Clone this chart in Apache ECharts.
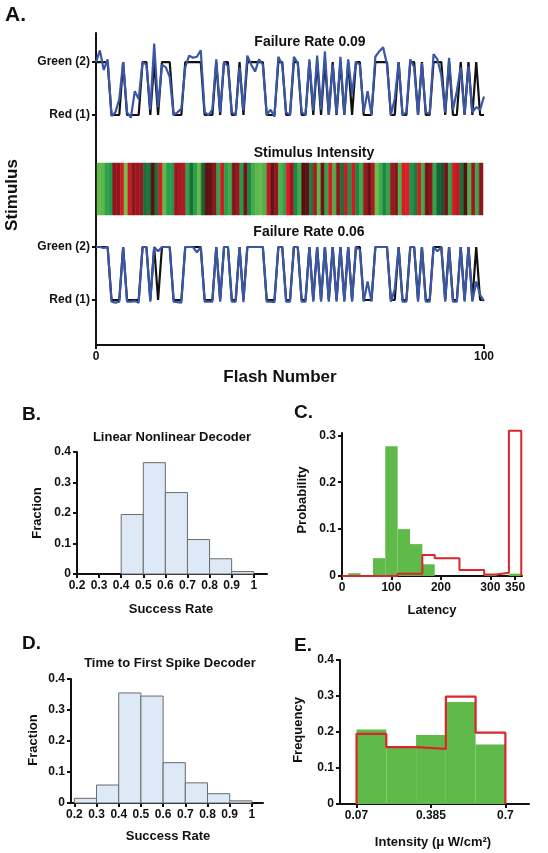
<!DOCTYPE html>
<html><head><meta charset="utf-8">
<script src="https://cdn.jsdelivr.net/npm/echarts@6/dist/echarts.min.js"></script>
<style>html,body{margin:0;padding:0;background:#fff}#c{width:548px;height:853px}</style>
</head><body><div id="c"></div>
<script>
// ---- Panel A data ----
const FLASH_TICKS = [0, 100];
const STIM = [2,2,2,2,1,1,1,2,1,1, 1,1,2,2,1,2,1,2,2,2, 1,1,1,2,2,2,2,2,1,1, 1,2,1,2,2,1,1,2,1,2,
  2,2,2,2,1,1,1,2,2,1, 1,2,2,1,1,2,1,2,1,2, 1,2,1,2,1,2,1,2,2,1, 1,1,2,2,2,2,1,1,2,1, 1,2,2,1,2,1,1,2,2,2,
  1,2,1,1,2,1,2,1,2,1, 1];
const DECODE_TOP = [2.0,2.22,1.85,2.05,0.98,1.05,1.3,2.0,1.05,0.95, 1.45,1.3,2.0,1.95,1.1,2.35,1.15,1.95,1.9,1.72,
  1.0,1.05,1.12,1.9,2.12,2.08,2.1,2.22,1.05,1.0, 1.1,2.05,1.05,2.0,1.92,1.05,1.0,1.9,1.08,2.12,
  1.95,1.82,2.05,1.95,1.0,1.1,0.97,2.1,1.95,1.05, 1.0,2.1,1.98,1.05,1.0,2.05,1.08,2.12,1.1,2.2,
  1.0,1.95,1.02,2.1,1.0,2.05,1.4,2.0,1.95,1.05, 1.45,1.0,2.1,2.2,2.28,1.95,1.0,1.3,2.0,1.0,
  1.05,2.05,1.9,1.0,1.98,1.05,1.02,2.15,2.05,1.75, 1.05,2.08,1.1,1.45,1.9,1.0,1.92,1.05,1.15,1.1, 1.35];
const DECODE_BOT = [2.0,2.0,1.98,2.0,0.97,0.95,0.97,2.0,0.97,0.97, 0.98,0.95,2.0,2.0,0.97,2.0,1.92,2.0,2.0,2.0,
  0.97,0.96,0.95,2.0,2.0,2.0,1.9,2.0,0.97,0.97, 0.97,2.0,0.97,2.0,2.0,0.97,0.97,2.0,0.96,2.0,
  2.0,2.0,2.0,2.0,0.97,0.97,0.96,2.0,2.0,0.97, 0.97,2.0,2.0,0.97,0.97,2.0,0.97,2.0,0.97,2.0,
  0.97,2.0,0.97,2.0,0.97,2.0,0.97,2.0,1.95,0.97, 1.35,0.97,2.0,2.0,2.0,2.0,0.97,1.2,2.0,0.97,
  0.97,2.0,2.0,0.97,2.0,0.97,0.97,2.0,1.92,2.0, 0.97,2.0,0.97,0.97,2.0,0.97,2.0,0.97,1.35,1.1, 0.98];
const INTENSITY = [0.62,0.6,0.45,0.4,0.3,0.3,0.6,0.68,0.55,0.3, 0.35,0.35,0.2,0.22,0.1,0.2,0.6,0.62,0.42,0.4,
  0.35,0.38,0.45,0.45,0.2,0.42,0.62,0.15,0.12,0.15, 0.3,0.45,0.6,0.42,0.5,0.25,0.35,0.4,0.2,0.3,
  0.5,0.6,0.62,0.55,0.5,0.15,0.3,0.55,0.45,0.65, 0.35,0.3,0.5,0.1,0.12,0.25,0.4,0.6,0.2,0.45,
  0.62,0.55,0.3,0.2,0.55,0.35,0.6,0.3,0.5,0.35, 0.15,0.4,0.65,0.5,0.3,0.45,0.35,0.25,0.55,0.62,
  0.65,0.35,0.25,0.58,0.5,0.2,0.3,0.45,0.15,0.1, 0.2,0.45,0.6,0.5,0.2,0.08,0.55,0.35,0.48,0.3];
const STIM_LABELS = {1: 'Red (1)', 2: 'Green (2)'};

// ---- Panel B ----
const B_EDGES = [0.2,0.3,0.4,0.5,0.6,0.7,0.8,0.9,1.0];
const B_VALS  = [0,0,0.195,0.365,0.267,0.113,0.05,0.008];
// ---- Panel D ----
const D_EDGES = [0.2,0.3,0.4,0.5,0.6,0.7,0.8,0.9,1.0];
const D_VALS  = [0.015,0.058,0.355,0.345,0.13,0.065,0.03,0.007];
const SR_TICKS = [0.2,0.3,0.4,0.5,0.6,0.7,0.8,0.9,1.0];
const FRAC_TICKS = [0,0.1,0.2,0.3,0.4];
// ---- Panel C ----
const C_GREEN_EDGES = [[12.5,37.5],[62.5,87.5],[87.5,112.5],[112.5,137.5],[137.5,162.5],[162.5,187.5],[287.5,312.5],[337.5,362.5]];
const C_GREEN_VALS = [0.006,0.038,0.277,0.1,0.068,0.025,0.004,0.005];
const C_RED_EDGES = [0,112.5,162.5,187.5,237.5,287.5,312.5,337.5,362.5];
const C_RED_VALS  = [0,0.005,0.045,0.038,0.013,0.003,0.007,0.31];
const LAT_TICKS = [0,100,200,300,350];
const PROB_TICKS = [0,0.1,0.2,0.3];
// ---- Panel E ----
const E_EDGES = [0.07,0.196,0.322,0.448,0.574,0.7];
const E_GREEN = [0.207,0.158,0.192,0.283,0.165];
const E_RED   = [0.195,0.158,0.153,0.298,0.198];
const INT_TICKS = [0.07,0.385,0.7];
const FREQ_TICKS = [0,0.1,0.2,0.3,0.4];

const FONT = '"Liberation Sans", Arial, sans-serif';
const INK = '#111';
const BLUE = '#3a56a6';
const GREEN = '#5fba4a';
const RED = '#d9262c';

function mix(a, b, t) { return a.map((v, k) => Math.round(v + (b[k] - v) * t)); }
function stripeColor(s, v) {
  const t = Math.max(0, Math.min(1, (v - 0.07) / 0.63));
  const ramp = s === 2 ? [[25, 80, 45], [30, 155, 75], [125, 195, 75]] : [[80, 15, 18], [165, 25, 35], [230, 30, 40]];
  const c = t < 0.5 ? mix(ramp[0], ramp[1], t * 2) : mix(ramp[1], ramp[2], (t - 0.5) * 2);
  return `rgb(${c[0]},${c[1]},${c[2]})`;
}

const axLine = {show: true, onZero: false, lineStyle: {color: INK, width: 2}};
const axTick = {show: true, length: 4, lineStyle: {color: INK, width: 2}};
const axLab = {color: INK, fontWeight: 'bold', fontSize: 12, fontFamily: FONT, margin: 6};
function valAxis(grid, min, max, ticks, fmt, extra) {
  return Object.assign({
    type: 'value', gridIndex: grid, min, max,
    axisLine: axLine,
    axisTick: Object.assign({}, axTick, {customValues: ticks}),
    axisLabel: Object.assign({}, axLab, {customValues: ticks, formatter: fmt}),
    splitLine: {show: false}
  }, extra || {});
}
const f1 = v => (Math.abs(v) < 1e-9 ? '0' : (Math.abs(v - 1) < 1e-9 ? '1' : v.toFixed(1)));
const fPlain = v => String(v);

function histRects(edges, vals, pairs) {
  return vals.map((v, i) => pairs ? [edges[i][0], edges[i][1], v] : [edges[i], edges[i+1], v]);
}
function rectSeries(xi, yi, data, style, z) {
  return {
    type: 'custom', xAxisIndex: xi, yAxisIndex: yi, z: z || 2, clip: false,
    encode: {x: [0, 1], y: 2},
    data,
    renderItem: function (params, api) {
      const a = api.coord([api.value(0), api.value(2)]);
      const b = api.coord([api.value(1), 0]);
      const fill = style.fill || api.value(3);
      return {type: 'rect', shape: {x: a[0], y: a[1], width: b[0] - a[0], height: b[1] - a[1]},
        style: Object.assign({}, style, {fill: fill, stroke: style.stroke || fill})};
    }
  };
}
function stepPoints(edges, vals) {
  const pts = [];
  for (let i = 0; i < vals.length; i++) { pts.push([edges[i], vals[i]]); pts.push([edges[i+1], vals[i]]); }
  pts.push([edges[edges.length-1], 0]);
  return pts;
}
function stepPointsE(edges, vals) {
  const pts = [[edges[0], 0]];
  for (let i = 0; i < vals.length; i++) { pts.push([edges[i], vals[i]]); pts.push([edges[i+1], vals[i]]); }
  pts.push([edges[edges.length-1], 0]);
  return pts;
}

const hidden = {show: false};
const stripeData = INTENSITY.map((v, i) => [i, i + 1, 1, stripeColor(STIM[i], v)]);

const option = {
  animation: false,
  backgroundColor: '#fff',
  grid: [
    {left: 96, right: 64, top: 33, bottom: 508},        // 0 A frame
    {left: 96, right: 64, top: 38.2, bottom: 727.4},    // 1 top trace
    {left: 97, right: 65, top: 163, height: 52},        // 2 stimulus bar
    {left: 96, right: 64, top: 236.4, bottom: 542.4},   // 3 bottom trace
    {left: 77, right: 281, top: 452, bottom: 279},      // 4 B
    {left: 342, right: 26, top: 433, bottom: 277},      // 5 C
    {left: 71, right: 285, top: 679, bottom: 50},       // 6 D
    {left: 340, right: 19, top: 660, bottom: 49}        // 7 E
  ],
  xAxis: [
    valAxis(0, 0, 100, FLASH_TICKS, fPlain),
    {type: 'value', gridIndex: 1, min: 0, max: 100, show: false},
    {type: 'value', gridIndex: 2, min: 0, max: 100, show: false},
    {type: 'value', gridIndex: 3, min: 0, max: 100, show: false},
    valAxis(4, 0.2, 1.06, SR_TICKS, f1),
    valAxis(5, 0, 364, LAT_TICKS, fPlain),
    valAxis(6, 0.185, 1.05, SR_TICKS, f1),
    valAxis(7, 0, 0.8, INT_TICKS, fPlain)
  ],
  yAxis: [
    {type: 'value', gridIndex: 0, min: 0, max: 1, axisLine: axLine, axisTick: hidden, axisLabel: hidden, splitLine: hidden},
    valAxis(1, 0.8, 2.45, [1, 2], v => STIM_LABELS[v] || '', {axisLine: hidden}),
    {type: 'value', gridIndex: 2, min: 0, max: 1, show: false},
    valAxis(3, 0.8, 2.2, [1, 2], v => STIM_LABELS[v] || '', {axisLine: hidden}),
    valAxis(4, 0, 0.4, FRAC_TICKS, f1),
    valAxis(5, 0, 0.305, PROB_TICKS, f1),
    valAxis(6, 0, 0.4, FRAC_TICKS, f1),
    valAxis(7, 0, 0.4, FREQ_TICKS, f1)
  ],
  series: [
    {type: 'line', xAxisIndex: 1, yAxisIndex: 1, showSymbol: false, data: STIM.map((v, i) => [i, v]), lineStyle: {color: INK, width: 2.2}, z: 2},
    {type: 'line', xAxisIndex: 1, yAxisIndex: 1, showSymbol: false, data: DECODE_TOP.map((v, i) => [i, v]), lineStyle: {color: BLUE, width: 2.2}, z: 3},
    rectSeries(2, 2, stripeData, {lineWidth: 0.5}),
    {type: 'line', xAxisIndex: 3, yAxisIndex: 3, showSymbol: false, data: STIM.map((v, i) => [i, v]), lineStyle: {color: INK, width: 2.2}, z: 2},
    {type: 'line', xAxisIndex: 3, yAxisIndex: 3, showSymbol: false, data: DECODE_BOT.map((v, i) => [i, v]), lineStyle: {color: BLUE, width: 2.2}, z: 3},
    rectSeries(4, 4, histRects(B_EDGES, B_VALS).filter(d => d[2] > 0), {fill: '#dde9f6', stroke: '#6b6b6b', lineWidth: 1}),
    rectSeries(6, 6, histRects(D_EDGES, D_VALS), {fill: '#dde9f6', stroke: '#6b6b6b', lineWidth: 1}),
    rectSeries(5, 5, histRects(C_GREEN_EDGES, C_GREEN_VALS, true), {fill: GREEN, lineWidth: 0}),
    {type: 'line', xAxisIndex: 5, yAxisIndex: 5, showSymbol: false, clip: false, data: stepPoints(C_RED_EDGES, C_RED_VALS), lineStyle: {color: RED, width: 2}, z: 4},
    rectSeries(7, 7, histRects(E_EDGES, E_GREEN), {fill: GREEN, lineWidth: 0}),
    {type: 'line', xAxisIndex: 7, yAxisIndex: 7, showSymbol: false, data: stepPointsE(E_EDGES, E_RED), lineStyle: {color: RED, width: 2.2}, z: 4}
  ],
  graphic: []
};

function txt(text, x, y, size, opts) {
  opts = opts || {};
  return {
    type: 'text', x, y, rotation: opts.rot || 0, z: 100,
    style: {text, font: `bold ${size}px ${FONT}`, fill: INK, textAlign: opts.align || 'center', textVerticalAlign: 'middle'}
  };
}
option.graphic = [
  txt('A.', 5, 15, 21, {align: 'left'}),
  txt('Stimulus', 12, 195, 17, {rot: Math.PI / 2}),
  txt('Flash Number', 280, 377, 17),
  txt('Failure Rate 0.09', 310, 42, 14),
  txt('Stimulus Intensity', 314, 153, 14),
  txt('Failure Rate 0.06', 309, 232, 14),
  txt('B.', 22, 415, 19, {align: 'left'}),
  txt('Linear Nonlinear Decoder', 172, 437, 13),
  txt('Fraction', 37, 513, 13, {rot: Math.PI / 2}),
  txt('Success Rate', 171, 609, 13),
  txt('C.', 294, 413, 19, {align: 'left'}),
  txt('Probability', 302, 500, 13, {rot: Math.PI / 2}),
  txt('Latency', 432, 610, 13),
  txt('D.', 22, 644, 19, {align: 'left'}),
  txt('Time to First Spike Decoder', 170, 663, 13),
  txt('Fraction', 33, 740, 13, {rot: Math.PI / 2}),
  txt('Success Rate', 168, 836, 13),
  txt('E.', 294, 646, 19, {align: 'left'}),
  txt('Frequency', 298, 730, 13, {rot: Math.PI / 2}),
  txt('Intensity (\u03bc W/cm\u00b2)', 433, 842, 13)
];

const chart = echarts.init(document.getElementById('c'), null, {renderer: 'canvas'});
chart.setOption(option);
</script>
</body></html>
